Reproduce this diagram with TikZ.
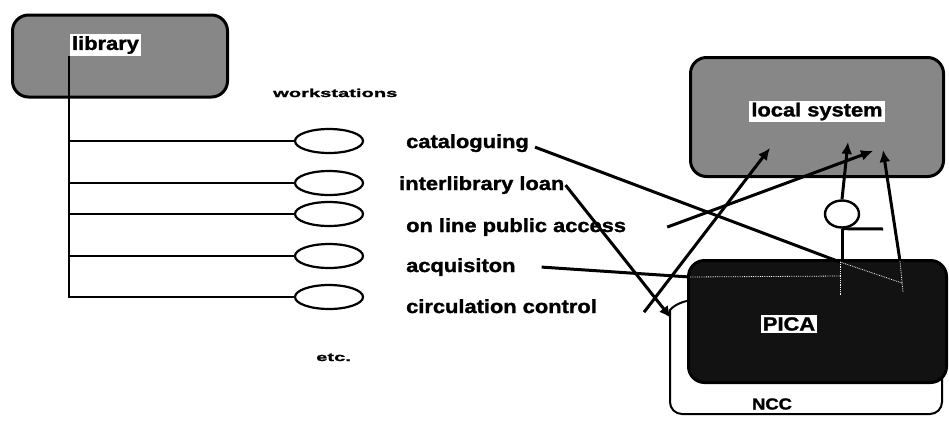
\documentclass[tikz,border=0pt]{standalone}
\usepackage{fontspec}
\setmainfont{Liberation Sans}[FakeStretch=1.15, BoldFeatures={FakeBold=1.5}]
\newfontfamily\widefont{Liberation Sans}[FakeStretch=1.75, BoldFeatures={FakeBold=1.5}]
\usetikzlibrary{shapes.geometric,arrows.meta}
\definecolor{halftone}{RGB}{135,135,135}
\definecolor{picadark}{RGB}{18,18,18}

\begin{document}
\begin{tikzpicture}[x=1pt, y=-1pt,
    box/.style={draw, line width=3pt, rounded corners=16pt},
    tag/.style={fill=white, inner sep=2pt, font=\fontsize{19}{22}\selectfont\bfseries},
    txt/.style={anchor=base west, inner sep=1pt, font=\fontsize{19}{22}\selectfont\bfseries},
    tiny/.style={anchor=base west, inner sep=1pt, font=\widefont\fontsize{11.5}{14}\selectfont\bfseries},
    ws/.style={draw, ellipse, line width=2.2pt, minimum width=68pt, minimum height=24pt, inner sep=0pt},
    tree/.style={line width=2.2pt},
    link/.style={line width=3pt},
    arr/.style={line width=3pt, -{Latex[length=12pt,width=11pt]}},
    ghost/.style={white, densely dotted, line width=0.8pt}]
    \useasboundingbox (0,0) rectangle (949,421);

    % library side
    \node[box, fill=halftone, minimum width=215pt, minimum height=82pt] (libbox) at (120,56) {};
    \node[tag] (lib) at (105.5,45) {library};
    \node[tiny] (wst) at (272,97) {workstations};

    \node[ws] (ws1) at (329,141) {};
    \node[ws] (ws2) at (329,183) {};
    \node[ws] (ws3) at (329,214) {};
    \node[ws] (ws4) at (329,256) {};
    \node[ws] (ws5) at (329,297) {};
    \foreach \i in {1,...,5}
        \draw[tree] ([xshift=-1pt]lib.south west) |- (ws\i.west);

    \node[txt] (cat) at (405,148) {cataloguing};
    \node[txt] (ill) at (398,190) {interlibrary loan};
    \node[txt] (opa) at (405,232) {on line public access};
    \node[txt] (acq) at (405,272) {acquisiton};
    \node[txt] (circ) at (405,313) {circulation control};
    \node[tiny] (etc) at (315,361) {etc.};

    % local system and PICA/NCC
    \node[box, fill=halftone, minimum width=253pt, minimum height=119pt] (local) at (817,117) {};
    \node[tag] (loc) at (817,111.5) {local system};

    \draw[line width=2pt, rounded corners=12pt] (692,300) .. controls (676,302) and (670,310) .. (670,322) -- (670,414) -- (942,414) -- (942,370);
    \node[box, fill=picadark, minimum width=258pt, minimum height=122pt] (pica) at (817.5,321.5) {};
    \node[tag] (pic) at (789,324) {PICA};
    \node[font=\fontsize{16}{19}\selectfont\bfseries] (ncc) at (772,404) {NCC};

    \node[draw, ellipse, line width=2.4pt, minimum width=34pt, minimum height=27pt, inner sep=0pt] (sw) at (842,214) {};

    \coordinate (pcat) at (840,262);
    \coordinate (pacq) at (690,277);
    \coordinate (nccin) at (671,318);
    \coordinate (lcirc) at (770,148);
    \coordinate (lopa) at (873,151);
    \coordinate (lsw) at (848,142);
    \coordinate (lpica) at (883,150);
    \coordinate (ppica) at (900,261);
    \coordinate (swend) at (883,229);

    \draw[ghost] (pacq) -- (840,276);
    \draw[ghost] (pcat) -- (840,296);
    \draw[ghost] (pcat) -- (902,283);
    \draw[ghost] (ppica) -- (903,292);

    \draw[link] ([xshift=5pt,yshift=-4pt]cat.east) -- (pcat);
    \draw[arr] (ill.east) -- (nccin);
    \draw[arr] ([xshift=40pt]opa.east) -- (lopa);
    \draw[link] ([xshift=25pt]acq.east) -- (pacq);
    \draw[arr] ([xshift=46pt,yshift=-6pt]circ.east) -- (lcirc);

    \draw[link] (sw.south) -- (sw.south |- pica.north);
    \draw[arr] (sw.north) -- (lsw);
    \draw[link] (sw.south) -- (swend);
    \draw[arr] (ppica) -- (lpica);
\end{tikzpicture}
\end{document}
